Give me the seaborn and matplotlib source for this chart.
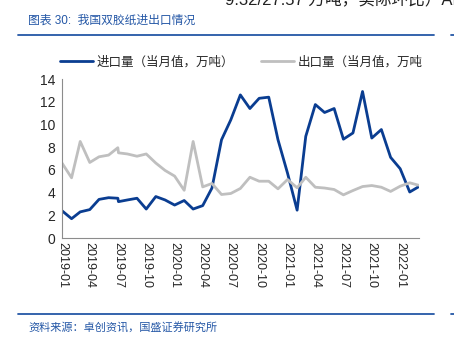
import pandas as pd
import numpy as np
import matplotlib
matplotlib.use("Agg")
import matplotlib.pyplot as plt
import matplotlib.dates as mdates
import seaborn as sns

# monthly data, 2019-07 has two records
dates = ['2019-01-01', '2019-02-01', '2019-03-01', '2019-04-01', '2019-05-01', '2019-06-01',
         '2019-07-01', '2019-07-03', '2019-08-01', '2019-09-01', '2019-10-01', '2019-11-01',
         '2019-12-01', '2020-01-01', '2020-02-01', '2020-03-01', '2020-04-01', '2020-05-01',
         '2020-06-01', '2020-07-01', '2020-08-01', '2020-09-01', '2020-10-01', '2020-11-01',
         '2020-12-01', '2021-01-01', '2021-02-01', '2021-03-01', '2021-04-01', '2021-05-01',
         '2021-06-01', '2021-07-01', '2021-08-01', '2021-09-01', '2021-10-01', '2021-11-01',
         '2021-12-01', '2022-01-01', '2022-02-01', '2022-03-01']
import_vol = [2.4, 1.7, 2.3, 2.5, 3.4, 3.55, 3.5, 3.2, 3.35, 3.5, 2.55, 3.65, 3.35,
              2.9, 3.3, 2.55, 2.85, 4.4, 8.65, 10.4, 12.6, 11.4, 12.3, 12.4, 8.65,
              5.7, 2.45, 8.95, 11.75, 11.05, 11.4, 8.7, 9.25, 12.9, 8.8, 9.55, 7.1,
              6.1, 4.05, 4.5]
export_vol = [6.6, 5.3, 8.5, 6.65, 7.15, 7.3, 7.95, 7.5, 7.4, 7.2, 7.4, 6.6, 5.95,
              5.45, 4.2, 8.5, 4.5, 4.8, 3.83, 3.92, 4.36, 5.35, 5.0, 5.0, 4.33,
              5.15, 4.42, 5.35, 4.47, 4.4, 4.27, 3.8, 4.18, 4.53, 4.62, 4.47, 4.1,
              4.56, 4.86, 4.65]
tick_months = ['2019-01', '2019-04', '2019-07', '2019-10', '2020-01', '2020-04', '2020-07',
               '2020-10', '2021-01', '2021-04', '2021-07', '2021-10', '2022-01']

lbl_in = '进口量（当月值，万吨）'
lbl_out = '出口量（当月值，万吨'

df = pd.DataFrame({'date': pd.to_datetime(dates), lbl_in: import_vol, lbl_out: export_vol})
df_long = df.melt(id_vars='date', var_name='series', value_name='val')

sns.set_style('white')
plt.rcParams['font.family'] = ['Liberation Sans', 'Noto Sans CJK SC', 'DejaVu Sans']

fig = plt.figure(figsize=(4.54, 3.53), dpi=100)
ax = fig.add_axes([62/454, 1-238/353, (419-62)/454, (238-79)/353])

sns.lineplot(data=df_long, x='date', y='val', hue='series', ax=ax,
             palette={lbl_in: '#0a3d91', lbl_out: '#bfbfbf'}, linewidth=2.0,
             legend=False, estimator=None, sort=False)

ax.set_ylim(0, 14)
ax.set_yticks(np.arange(0, 15, 2))
ax.set_xlim(pd.Timestamp('2019-01-01'), pd.Timestamp('2022-03-03'))
ax.set_xticks(pd.to_datetime(tick_months))
ax.xaxis.set_major_formatter(mdates.DateFormatter('%Y-%m'))
ax.set_xlabel('')
ax.set_ylabel('')
for s in ['top', 'right']:
    ax.spines[s].set_visible(False)
for s in ['left', 'bottom']:
    ax.spines[s].set_color('#8c8c8c')
    ax.spines[s].set_linewidth(0.8)
ax.tick_params(axis='x', direction='in', length=3, color='#8c8c8c', labelsize=9,
               labelrotation=270, pad=3)
ax.tick_params(axis='y', direction='out', length=3, color='#8c8c8c', labelsize=10, pad=2)
for t in ax.get_xticklabels():
    t.set_va('top')
    t.set_ha('center')

# legend
from matplotlib.lines import Line2D
handles = [Line2D([], [], color='#0a3d91', lw=2.0), Line2D([], [], color='#bfbfbf', lw=2.0)]
fig.legend(handles, [lbl_in, lbl_out], loc='center left', bbox_to_anchor=(60/454, 1-62/353),
           ncol=2, frameon=False, fontsize=9, handlelength=2.6, handletextpad=0.3,
           columnspacing=2.2, borderaxespad=0, borderpad=0)

# header / footer decorations
blue = '#2457a6'
fig.text(225/454, 1 + 1/353, '9.32/27.57 万吨，实际环比）API', fontsize=12, va='center', color='#222222')
fig.text(28/454, 1-21/353, '图表 30:  我国双胶纸进出口情况', fontsize=8.5, color=blue, va='center')
fig.add_artist(Line2D([18/454, 434/454], [1-35/353, 1-35/353], color=blue, lw=1.3))
fig.add_artist(Line2D([451/454, 454/454], [1-35/353, 1-35/353], color=blue, lw=1.3))
fig.add_artist(Line2D([18/454, 434/454], [1-314/353, 1-314/353], color=blue, lw=1.3))
fig.add_artist(Line2D([451/454, 454/454], [1-314/353, 1-314/353], color=blue, lw=1.3))
fig.text(28/454, 1-328/353, '资料来源：卓创资讯，国盛证券研究所', fontsize=8, color=blue, va='center')

fig.savefig('out.png', dpi=100)
